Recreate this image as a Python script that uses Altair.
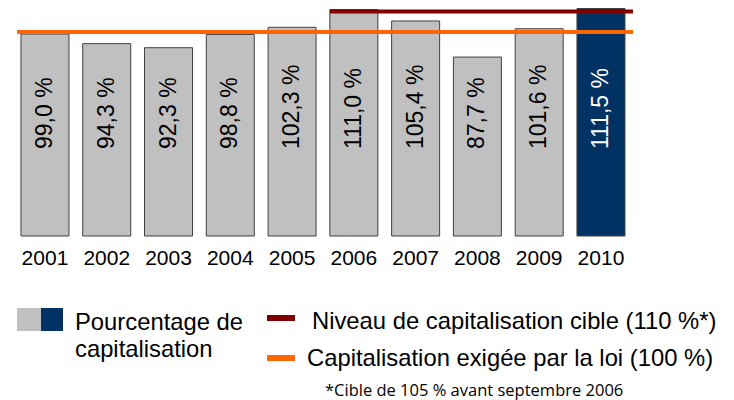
import altair as alt
import pandas as pd

# ---- data ----
years = ["2001", "2002", "2003", "2004", "2005", "2006", "2007", "2008", "2009", "2010"]
values = [99.0, 94.3, 92.3, 98.8, 102.3, 111.0, 105.4, 87.7, 101.6, 111.5]
highlight = [False, False, False, False, False, False, False, False, False, True]
required_level = 100.0
target_level = 110.0
target_start_year = "2006"

legend_bar_label = ["Pourcentage de", "capitalisation"]
legend_target_label = "Niveau de capitalisation cible (110 %*)"
legend_required_label = "Capitalisation exigée par la loi (100 %)"
footnote = "*Cible de 105 % avant septembre 2006"

# ---- styling ----
GRAY = "#C0C0C0"
NAVY = "#003263"
ORANGE = "#FF6600"
DARKRED = "#800000"
FONT = "Liberation Sans"
W, H = 616, 228
PX_PER_PCT = 2.04

labels = [f"{v:.1f}".replace(".", ",") + " %" for v in values]
df = pd.DataFrame({
    "year": years,
    "value": values,
    "fill": [NAVY if h else GRAY for h in highlight],
    "tcolor": ["#FFFFFF" if h else "#000000" for h in highlight],
    "label": labels,
})

x_scale = alt.Scale(paddingInner=0.223, paddingOuter=0.097, align=0.33)
y_scale = alt.Scale(domain=[0, H / PX_PER_PCT], nice=False, zero=True)

base = alt.Chart(df)
bars = base.mark_bar(stroke="#404040", strokeWidth=1).encode(
    x=alt.X("year:N", sort=years, scale=x_scale,
            axis=alt.Axis(title=None, labelAngle=0, labelFontSize=21, labelFont=FONT,
                          labelColor="#000000", labelPadding=11, ticks=False,
                          tickSize=0, domain=False, grid=False)),
    y=alt.Y("value:Q", scale=y_scale, axis=None),
    fill=alt.Fill("fill:N", scale=None),
)

text = base.mark_text(angle=270, align="left", baseline="middle", fontSize=23, font=FONT).encode(
    x=alt.X("year:N", sort=years),
    y=alt.value(141),
    text="label:N",
    color=alt.Color("tcolor:N", scale=None),
)

req = alt.Chart(pd.DataFrame({"level": [required_level]})).mark_rule(
    color=ORANGE, strokeWidth=4).encode(y=alt.Y("level:Q"))

tgt = alt.Chart(pd.DataFrame({"year": [target_start_year], "level": [target_level]})).mark_rule(
    color=DARKRED, strokeWidth=4).encode(
    x=alt.X("year:N", sort=years, bandPosition=0),
    x2=alt.value(W),
    y=alt.Y("level:Q"),
)

dummy = pd.DataFrame({"k": [0]})

def rect(x, x2, y, y2, color):
    return alt.Chart(dummy).mark_rect(color=color).encode(
        x=alt.value(x), x2=alt.value(x2), y=alt.value(y), y2=alt.value(y2))

def hline(x, x2, y, color, w):
    return alt.Chart(dummy).mark_rule(color=color, strokeWidth=w).encode(
        x=alt.value(x), x2=alt.value(x2), y=alt.value(y))

def label(t, x, y, size=23.8, font=FONT):
    return alt.Chart(dummy).mark_text(align="left", baseline="alphabetic", fontSize=size,
                                      font=font, color="#000000").encode(
        x=alt.value(x), y=alt.value(y), text=alt.value(t))

legend = [
    rect(0, 24, 300, 323, GRAY),
    rect(24, 46, 300, 323, NAVY),
    label(legend_bar_label[0], 58, 322),
    label(legend_bar_label[1], 58, 349),
    hline(250, 278, 310, DARKRED, 6),
    label(legend_target_label, 295, 321),
    hline(250, 278, 350, ORANGE, 6),
    label(legend_required_label, 290, 358),
    label(footnote, 308, 388, size=16.5, font="Open Sans"),
]

chart = alt.layer(bars, text, req, tgt, *legend).properties(
    width=W, height=H,
    autosize=alt.AutoSizeParams(type="none"),
    padding={"left": 9, "top": 0, "right": 718 - 9 - W, "bottom": 392 - H},
).configure_view(stroke=None)

chart.save("out.html", embed_options={"renderer": "svg", "actions": False})
